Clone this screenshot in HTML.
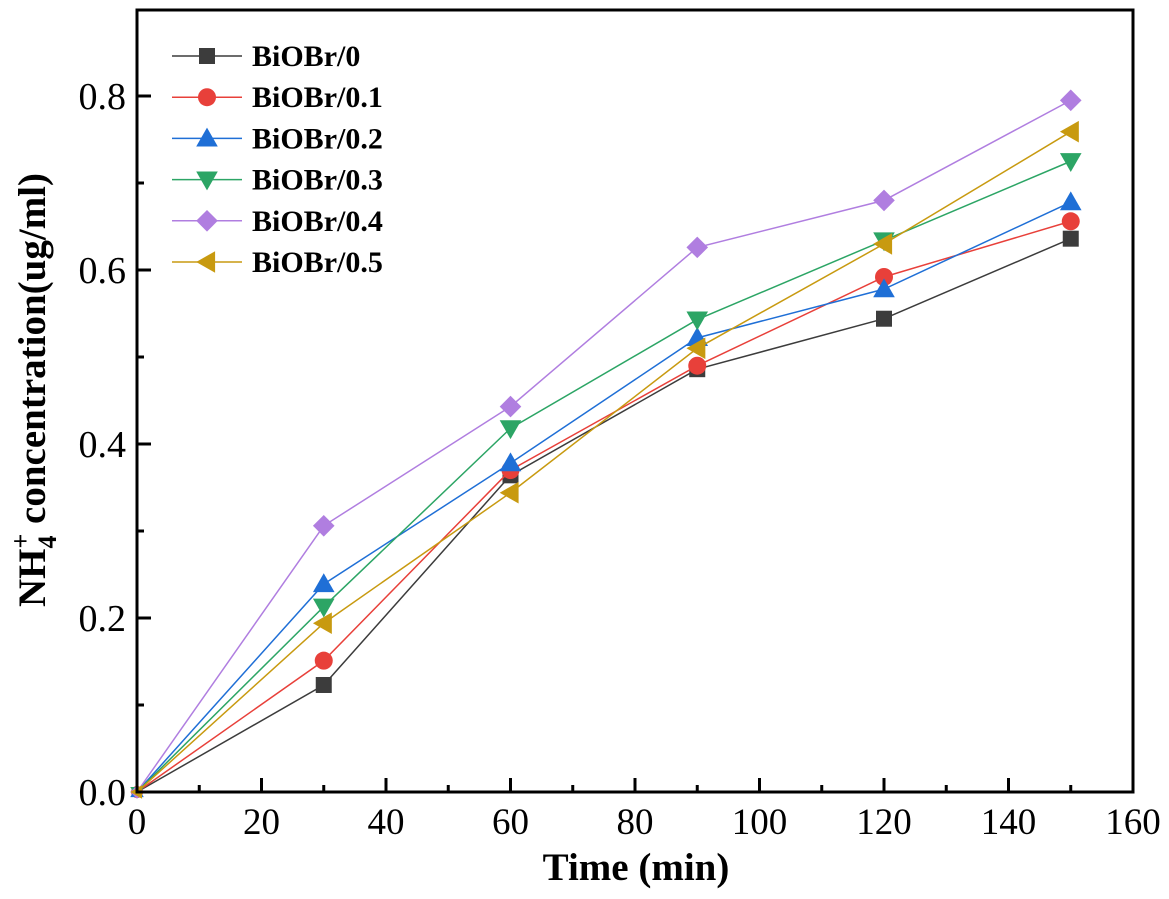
<!DOCTYPE html>
<html><head><meta charset="utf-8"><style>
body{margin:0;background:#fff}
svg{display:block;font-family:"Liberation Serif",serif}
</style></head><body>
<svg id="chart" width="1169" height="899" viewBox="0 0 1169 899">
<g id="grid"></g><g id="series"></g><g id="axes"></g><g id="legend"></g>
</svg>
<script>
const xValues=[0,30,60,90,120,150];
const seriesNames=["BiOBr/0","BiOBr/0.1","BiOBr/0.2","BiOBr/0.3","BiOBr/0.4","BiOBr/0.5"];
const s0=[0,0.123,0.364,0.486,0.544,0.636];
const s1=[0,0.151,0.370,0.490,0.592,0.656];
const s2=[0,0.239,0.378,0.522,0.578,0.678];
const s3=[0,0.213,0.418,0.543,0.634,0.725];
const s4=[0,0.306,0.443,0.626,0.680,0.795];
const s5=[0,0.194,0.344,0.510,0.630,0.759];
const xTicks=[0,20,40,60,80,100,120,140,160];
const yTicks=[0.0,0.2,0.4,0.6,0.8];
const allSeries=[s0,s1,s2,s3,s4,s5];
const colors=["#3c3c3c","#e8403a","#1f6fd6","#2ca565","#b07ee0","#c89a10"];
const markers=["square","circle","up","down","diamond","left"];
const L=137,R=1133,T=10,B=792;
const X=v=>L+(v/160)*(R-L);
const Y=v=>B-(v/0.8)*(B-96);
const NS="http://www.w3.org/2000/svg";
function mk(tag,attrs,parent){const e=document.createElementNS(NS,tag);for(const k in attrs)e.setAttribute(k,attrs[k]);parent.appendChild(e);return e;}
const axes=document.getElementById('axes');
const ser=document.getElementById('series');
const leg=document.getElementById('legend');
function marker(type,cx,cy,col,parent,r){
  let e;
  if(type==="square")e=mk('rect',{x:cx-r,y:cy-r,width:2*r,height:2*r,fill:col},parent);
  else if(type==="circle")e=mk('circle',{cx:cx,cy:cy,r:r+1,fill:col},parent);
  else{let p;const s=r*1.35;
    if(type==="up")p=[[cx,cy-s],[cx-s,cy+s*0.75],[cx+s,cy+s*0.75]];
    if(type==="down")p=[[cx,cy+s],[cx-s,cy-s*0.75],[cx+s,cy-s*0.75]];
    if(type==="left")p=[[cx-s,cy],[cx+s*0.75,cy-s],[cx+s*0.75,cy+s]];
    if(type==="diamond")p=[[cx,cy-s],[cx+s,cy],[cx,cy+s],[cx-s,cy]];
    e=mk('polygon',{points:p.map(q=>q.join(',')).join(' '),fill:col},parent);}
  return e;
}
allSeries.forEach((vals,i)=>{
  const g=mk('g',{},ser);
  
  
  const pl=mk('polyline',{points:vals.map((v,j)=>X(xValues[j])+','+Y(v)).join(' '),fill:'none',stroke:colors[i],'stroke-width':1.5},g);
  
  
  vals.forEach((v,j)=>{const m=marker(markers[i],X(xValues[j]),Y(v),colors[i],g,j===0?5:8);
    
    });
});
const fr=mk('rect',{x:L,y:T,width:R-L,height:B-T,fill:'none',stroke:'#000','stroke-width':3},axes);


for(let v=0;v<=160;v+=10){const major=v%20===0;mk('line',{x1:X(v),x2:X(v),y1:B,y2:B-(major?14:7),stroke:'#000','stroke-width':3},axes);}
for(let k=0;k<=8;k++){const v=k*0.1;const major=k%2===0;mk('line',{x1:L,x2:L+(major?14:7),y1:Y(v),y2:Y(v),stroke:'#000','stroke-width':3},axes);}
xTicks.forEach(v=>{const t=mk('text',{x:X(v),y:B+42,'text-anchor':'middle','font-size':37},axes);t.textContent=v;
  });
yTicks.forEach(v=>{const t=mk('text',{x:L-11,y:Y(v)+13,'text-anchor':'end','font-size':38},axes);t.textContent=v.toFixed(1);
  });
const xt=mk('text',{x:636,y:880,'text-anchor':'middle','font-size':39,'font-weight':'bold'},axes);
xt.textContent='Time (min)';

const yt=mk('text',{transform:'translate(45,390) rotate(-90)','text-anchor':'middle','font-size':39,'font-weight':'bold'},axes);
yt.innerHTML='NH<tspan dy="11" font-size="26">4</tspan><tspan dy="-27" dx="-13" font-size="26">+</tspan><tspan dy="16"> concentration(ug/ml)</tspan>';

seriesNames.forEach((n,i)=>{
  const cy=56+i*41.2;
  const g=mk('g',{},leg);
  
  
  mk('line',{x1:172,x2:242,y1:cy,y2:cy,stroke:colors[i],'stroke-width':1.5},g);
  marker(markers[i],207,cy,colors[i],g,8);
  const t=mk('text',{x:252,y:cy+10,'font-size':30,'font-weight':'bold'},g);t.textContent=n;
});
</script>
</body></html>
